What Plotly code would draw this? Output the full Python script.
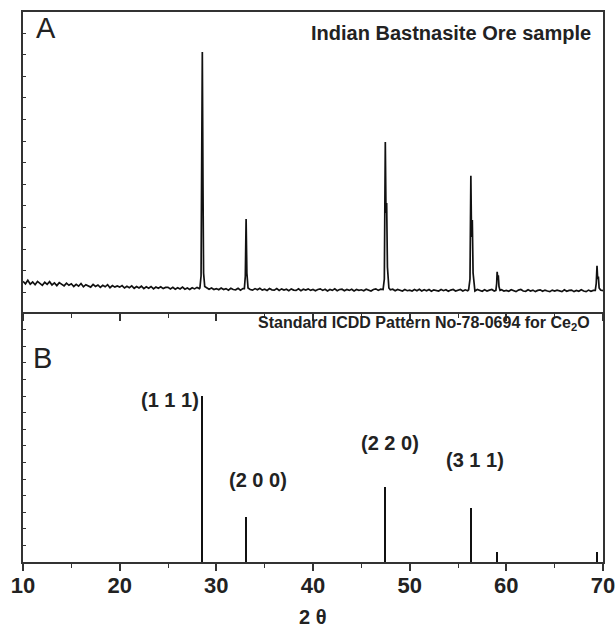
import numpy as np
import plotly.graph_objects as go

# ---------------- data ----------------
# Panel A: measured XRD pattern (baseline sampled every 0.25 deg from 10 to 70)
baseline_start = 10.0
baseline_step = 0.25
baseline_intensity = [
    102, 94, 106, 93, 100, 91, 102, 94, 89, 99, 92, 101, 90, 97, 88, 98, 91, 87, 96, 89,
    94, 85, 92, 86, 95, 84, 91, 87, 83, 92, 85, 90, 82, 89, 84, 91, 81, 88, 83, 87,
    83, 88, 80, 86, 81, 87, 79, 85, 80, 86, 78, 84, 79, 85, 77, 83, 79, 84, 78, 82,
    82, 77, 82, 76, 81, 77, 83, 76, 80, 75, 81, 77, 82, 78, 79, 75, 81, 76, 80, 75,
    78, 74, 80, 75, 78, 73, 79, 75, 74, 79, 73, 78, 74, 79, 75, 73, 78, 74, 79, 73,
    76, 72, 78, 74, 73, 78, 72, 77, 73, 76, 71, 77, 73, 72, 77, 71, 76, 73, 77, 72,
    75, 71, 75, 77, 72, 76, 70, 75, 72, 77, 71, 75, 76, 71, 75, 72, 76, 70, 75, 72,
    74, 71, 76, 72, 70, 75, 77, 72, 76, 71, 75, 70, 74, 76, 71, 75, 72, 70, 75, 71,
    73, 70, 75, 71, 76, 70, 74, 71, 75, 69, 74, 71, 70, 75, 71, 74, 69, 73, 75, 70,
    72, 75, 70, 74, 71, 69, 74, 70, 75, 71, 69, 74, 70, 73, 75, 70, 73, 69, 74, 70,
    72, 69, 74, 70, 68, 73, 75, 70, 69, 74, 70, 73, 68, 72, 74, 69, 73, 70, 68, 73,
    70, 73, 70, 68, 74, 69, 72, 73, 68, 72, 69, 74, 70, 68, 73, 69, 72, 74, 69, 73,
    71,
]

# peak profiles (2theta, intensity)
peak_111_x = [28.30, 28.42, 28.48, 28.55, 28.62, 28.68, 28.80, 28.95]
peak_111_y = [80, 120, 400, 867, 420, 130, 85, 80]
peak_200_x = [32.90, 33.00, 33.08, 33.16, 33.28]
peak_200_y = [78, 120, 310, 130, 80]
peak_220_x = [47.25, 47.38, 47.48, 47.55, 47.62, 47.70, 47.85]
peak_220_y = [75, 110, 567, 330, 363, 150, 80]
peak_311_x = [56.10, 56.24, 56.33, 56.40, 56.48, 56.56, 56.70]
peak_311_y = [74, 110, 454, 250, 307, 130, 76]
peak_222_x = [58.92, 59.00, 59.05, 59.11, 59.17, 59.24, 59.35]
peak_222_y = [72, 95, 134, 112, 122, 85, 72]
peak_400_x = [69.20, 69.30, 69.38, 69.45, 69.52, 69.60, 69.72]
peak_400_y = [72, 95, 154, 110, 118, 80, 74]

# Panel B: standard ICDD stick pattern
std_positions = [28.55, 33.08, 47.50, 56.35, 59.05, 69.40]
std_intensity = [100, 27.3, 45.4, 32.5, 6.2, 5.8]

hkl_labels = ["(1 1 1)", "(2 0 0)", "(2 2 0)", "(3 1 1)"]
hkl_label_x = [25.2, 34.3, 47.96, 56.76]
hkl_label_y = [97.6, 49.4, 71.7, 61.4]

x_tick_values = [10, 20, 30, 40, 50, 60, 70]

# ---------------- assemble measured pattern ----------------
peaks = [
    (peak_111_x, peak_111_y), (peak_200_x, peak_200_y), (peak_220_x, peak_220_y),
    (peak_311_x, peak_311_y), (peak_222_x, peak_222_y), (peak_400_x, peak_400_y),
]
base_x = [baseline_start + i * baseline_step for i in range(len(baseline_intensity))]
pts = []
for bx, by in zip(base_x, baseline_intensity):
    if any(min(px) <= bx <= max(px) for px, _ in peaks):
        continue
    pts.append((bx, by))
for px, py in peaks:
    pts.extend(zip(px, py))
pts.sort()
meas_x = [p[0] for p in pts]
meas_y = [p[1] for p in pts]

FONT = "Arial, Liberation Sans, sans-serif"
AXC = "#333333"
TXT = "#222222"

fig = go.Figure()
fig.add_trace(go.Scatter(x=meas_x, y=meas_y, mode="lines",
                         line=dict(color="#111111", width=1.7),
                         xaxis="x", yaxis="y", showlegend=False, hoverinfo="skip"))
fig.add_trace(go.Bar(x=std_positions, y=std_intensity, width=0.2,
                     marker=dict(color="#111111", line=dict(width=0)),
                     xaxis="x2", yaxis="y2", showlegend=False, hoverinfo="skip"))

split = 250 / 550
common_x = dict(range=[10, 70], showgrid=False, zeroline=False, showline=True,
                linecolor=AXC, linewidth=1.6, ticks="outside",
                tickvals=x_tick_values, ticklen=7, tickwidth=1.5, tickcolor=AXC,
                automargin=False,
                minor=dict(dtick=5, tick0=0, ticks="outside", ticklen=4, tickwidth=1.3, tickcolor=AXC))
common_y = dict(showgrid=False, zeroline=False, showline=True, linecolor=AXC,
                linewidth=1.6, mirror=True, ticks="inside", ticklen=3, tickwidth=1.2,
                tickcolor=AXC, showticklabels=False, automargin=False)

fig.update_layout(
    width=616, height=628,
    margin=dict(l=23, r=13, t=12, b=66),
    paper_bgcolor="white", plot_bgcolor="white",
    xaxis=dict(**common_x, mirror=True, domain=[0, 1], anchor="y", showticklabels=False),
    yaxis=dict(**common_y, domain=[split, 1], range=[0, 1000], tick0=66, dtick=72),
    xaxis2=dict(**common_x, mirror=False, domain=[0, 1], anchor="y2", showticklabels=True,
                tickfont=dict(family=FONT, size=22, color=TXT, weight="bold"),
                ticklabelstandoff=-4),
    yaxis2=dict(**common_y, domain=[0, split], range=[0, 150.6], tick0=0, dtick=10),
    bargap=0,
)

ann = []
ann.append(dict(text="A", x=0.0388, y=0.9718, xref="paper", yref="paper",
                showarrow=False, xanchor="center", yanchor="middle",
                font=dict(family=FONT, size=29, color=TXT)))
ann.append(dict(text="B", x=0.0336, y=0.3718, xref="paper", yref="paper",
                showarrow=False, xanchor="center", yanchor="middle",
                font=dict(family=FONT, size=29, color=TXT)))
ann.append(dict(text="<b>Indian Bastnasite Ore sample</b>", x=0.9828, y=0.9618,
                xref="paper", yref="paper", showarrow=False, xanchor="right", yanchor="middle",
                font=dict(family=FONT, size=20, color=TXT)))
ann.append(dict(text="<b>Standard ICDD Pattern No-78-0694 for Ce<sub>2</sub>O</b>", x=0.981, y=0.4345,
                xref="paper", yref="paper", showarrow=False, xanchor="right", yanchor="middle",
                font=dict(family=FONT, size=16, color=TXT)))
for t, lx, ly in zip(hkl_labels, hkl_label_x, hkl_label_y):
    ann.append(dict(text="<b>" + t + "</b>", x=lx, y=ly, xref="x2", yref="y2",
                    showarrow=False, xanchor="center", yanchor="middle",
                    font=dict(family=FONT, size=20, color=TXT)))
ann.append(dict(text="<b>2 θ</b>", x=0.5, y=(562 - 617) / 550, xref="paper", yref="paper",
                showarrow=False, xanchor="center", yanchor="middle",
                font=dict(family=FONT, size=20, color=TXT)))
fig.update_layout(annotations=ann)

fig.write_html("out.html", config={"displayModeBar": False},
               post_script="document.body.style.margin='0';document.body.style.padding='0';")
